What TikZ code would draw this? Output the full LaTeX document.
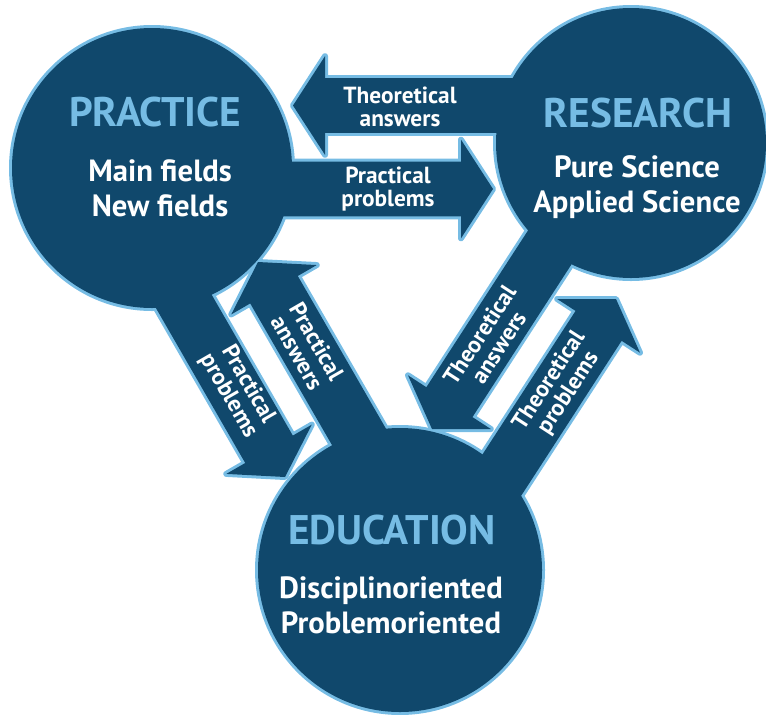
\documentclass[tikz,border=0pt]{standalone}
\usepackage{fontspec}
\setmainfont{PT Sans}
\usetikzlibrary{calc}

\definecolor{navy}{RGB}{16,72,108}
\definecolor{sky}{RGB}{118,188,228}

% broad arrow from #2 to tip #3, drawn with style #1
\newcommand{\fatarrow}[3]{
	\coordinate (hb) at ($(#3)!24pt!(#2)$);
	\path[#1] ($(#2)!20.6pt!90:(#3)$) -- ($(hb)!20.6pt!-90:(#2)$) -- ($(hb)!37pt!-90:(#2)$) -- (#3)
		-- ($(hb)!37pt!90:(#2)$) -- ($(hb)!20.6pt!90:(#2)$) -- ($(#2)!20.6pt!-90:(#3)$) -- cycle;
}

\begin{document}
\begin{tikzpicture}[x=0.75pt, y=0.75pt, line join=round,
	rim/.style={draw=sky, line width=4.5pt, fill=navy},
	body/.style={fill=navy},
	title/.style={text=sky, font=\bfseries\fontsize{31}{33}\selectfont},
	field/.style={text=white, align=center, font=\bfseries\fontsize{23}{26}\selectfont},
	flow/.style={text=white, align=center, font=\bfseries\fontsize{17.5}{17}\selectfont}]

	\useasboundingbox (0,0) rectangle (766,-714);

	% ends of the arrows
	\coordinate (ta_s) at (631,-105.5);	\coordinate (ta_t) at (293,-105.5);
	\coordinate (pp_s) at (152,-189);	\coordinate (pp_t) at (493,-189);
	\coordinate (ppd_s) at (115,-182);	\coordinate (ppd_t) at (285,-477);
	\coordinate (pad_s) at (422,-546);	\coordinate (pad_t) at (258,-262);
	\coordinate (tad_s) at (598,-173);	\coordinate (tad_t) at (432,-429);
	\coordinate (tpd_s) at (450,-555);	\coordinate (tpd_t) at (616,-299);

	% draw rims
	\node[rim, circle, minimum size=210pt] (prac) at (152,-168) {};
	\node[rim, circle, minimum size=202.5pt] (res) at (631,-143) {};
	\node[rim, circle, minimum size=213pt] (edu) at (400,-570) {};
	\foreach \s in {ta,pp,ppd,pad,tad,tpd}
	{
		\fatarrow{rim}{\s_s}{\s_t}
	}

	% fill bodies
	\fill[navy] (prac) circle (140);
	\fill[navy] (res) circle (135);
	\fill[navy] (edu) circle (142);
	\foreach \s in {ta,pp,ppd,pad,tad,tpd}
	{
		\fatarrow{body}{\s_s}{\s_t}
	}

	% circle texts
	\node[title] (prac_t) at (155,-112) {PRACTICE};
	\node[field] (prac_f) at (160,-188) {Main fields\\New fields};
	\node[title] (res_t) at (638,-113) {RESEARCH};
	\node[field] (res_f) at (637,-187) {Pure Science\\Applied Science};
	\node[title] (edu_t) at (392,-530) {EDUCATION};
	\node[field] (edu_f) at (391,-605) {Disciplinoriented\\Problemoriented};

	% arrow texts
	\node[flow] (ta_l) at (400,-107) {Theoretical\\answers};
	\node[flow] (pp_l) at (388,-189) {Practical\\problems};
	\node[flow, rotate=-60] (ppd_l) at (238,-390) {Practical\\problems};
	\node[flow, rotate=-60] (pad_l) at (307,-347) {Practical\\answers};
	\node[flow, rotate=57] (tad_l) at (489,-341) {Theoretical\\answers};
	\node[flow, rotate=57] (tpd_l) at (559,-387) {Theoretical\\problems};

\end{tikzpicture}
\end{document}
